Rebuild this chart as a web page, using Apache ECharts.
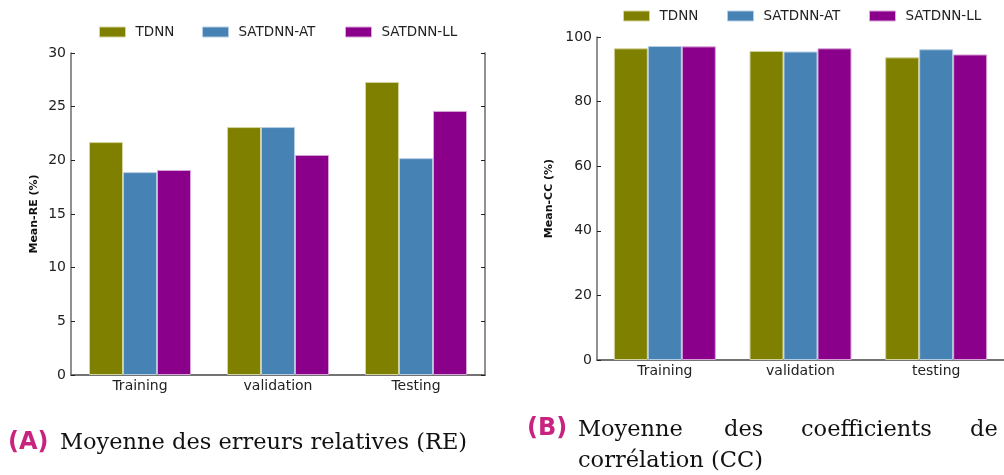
<!DOCTYPE html>
<html><head><meta charset="utf-8">
<script src="https://cdn.jsdelivr.net/npm/echarts@6/dist/echarts.min.js"></script>
<style>html,body{margin:0;padding:0;background:#fff}#c{width:1004px;height:475px}</style>
</head><body><div id="c"></div>
<script>
const seriesNames = ['TDNN', 'SATDNN-AT', 'SATDNN-LL'];
const reCategories = ['Training', 'validation', 'Testing'];
const ccCategories = ['Training', 'validation', 'testing'];
const reTDNN = [21.7, 23.1, 27.3];
const reSATAT = [18.9, 23.1, 20.2];
const reSATLL = [19.1, 20.5, 24.6];
const ccTDNN = [96.5, 95.7, 93.7];
const ccSATAT = [97.2, 95.5, 96.2];
const ccSATLL = [97.1, 96.5, 94.6];
const reTicks = [0, 5, 10, 15, 20, 25, 30];
const ccTicks = [0, 20, 40, 60, 80, 100];

const colors = ['#808000', '#4682b4', '#8b008b'];
const edges = ['#d4d4a0', '#b4cde3', '#d8a6d8'];
const axisCol = '#6b6b6b';
const font = 'DejaVu Sans';

function xAxes(cats, gi) {
  const common = {type: 'category', data: cats, gridIndex: gi,
    axisLine: {lineStyle: {color: axisCol, width: 1.5}},
    axisTick: {inside: true, alignWithLabel: true, length: 4, lineStyle: {color: '#222', width: 1}}};
  return [
    Object.assign({}, common, {position: 'bottom',
      axisLabel: {fontFamily: font, fontSize: 14, color: '#222', margin: 4}}),
    Object.assign({}, common, {position: 'top', axisLabel: {show: false}})
  ];
}
function yAxes(ticks, gi, name, gap, showRight) {
  const common = {type: 'value', gridIndex: gi, min: ticks[0], max: ticks[ticks.length-1],
    interval: ticks[1]-ticks[0], splitLine: {show: false},
    axisLine: {show: true, lineStyle: {color: axisCol, width: 1.5}},
    axisTick: {show: true, inside: true, length: 4, lineStyle: {color: '#222', width: 1}}};
  return [
    Object.assign({}, common, {position: 'left', name: name, nameLocation: 'middle', nameRotate: 90, nameGap: gap,
      nameTextStyle: {fontFamily: font, fontSize: 11, fontWeight: 'bold', color: '#111'},
      axisLabel: {fontFamily: font, fontSize: 14, color: '#222', margin: 5}}),
    Object.assign({}, common, {position: 'right', show: showRight, axisLabel: {show: false}})
  ];
}
function bars(vals, gi) {
  return vals.map((v, i) => ({
    name: seriesNames[i], type: 'bar', xAxisIndex: gi*2, yAxisIndex: gi*2, data: v,
    barWidth: 34, barGap: '0%',
    itemStyle: {color: colors[i], borderColor: edges[i], borderWidth: 1}
  }));
}
function legends(pos, y) {
  return seriesNames.map((n, i) => ({
    data: [{name: n, icon: 'rect'}], left: pos[i], top: y, itemWidth: 26, itemHeight: 10, padding: 0,
    itemStyle: {borderColor: edges[i], borderWidth: 1},
    textStyle: {fontFamily: font, fontSize: 13.5, color: '#222', padding: [0, 0, 0, 5]},
    selectedMode: false
  }));
}

const serif = '22.5px "DejaVu Serif"';
const chart = echarts.init(document.getElementById('c'), null, {renderer: 'canvas'});
chart.setOption({
  animation: false,
  grid: [
    {left: 71, top: 53, width: 414, height: 322},
    {left: 597, top: 37, width: 411, height: 323}
  ],
  legend: legends([99, 202, 345], 25).concat(legends([623, 727, 869], 9)),
  xAxis: xAxes(reCategories, 0).concat(xAxes(ccCategories, 1)),
  yAxis: yAxes(reTicks, 0, 'Mean-RE (%)', 31, true).concat(yAxes(ccTicks, 1, 'Mean-CC (%)', 42, false)),
  series: bars([reTDNN, reSATAT, reSATLL], 0).concat(bars([ccTDNN, ccSATAT, ccSATLL], 1)),
  graphic: [
    {type: 'text', left: 8, top: 431, style: {text: '(A)', font: 'bold 24px "DejaVu Sans"', fill: '#c8237f'}},
    {type: 'text', left: 60, top: 432, style: {text: 'Moyenne des erreurs relatives (RE)', font: serif, fill: '#111'}},
    {type: 'text', left: 527, top: 417, style: {text: '(B)', font: 'bold 24px "DejaVu Sans"', fill: '#c8237f'}},
    {type: 'text', left: 578, top: 419, style: {text: 'Moyenne', font: serif, fill: '#111'}},
    {type: 'text', left: 724, top: 419, style: {text: 'des', font: serif, fill: '#111'}},
    {type: 'text', left: 801, top: 419, style: {text: 'coefficients', font: serif, fill: '#111'}},
    {type: 'text', left: 970, top: 419, style: {text: 'de', font: serif, fill: '#111'}},
    {type: 'text', left: 578, top: 450, style: {text: 'corrélation (CC)', font: serif, fill: '#111'}}
  ]
});
</script></body></html>
